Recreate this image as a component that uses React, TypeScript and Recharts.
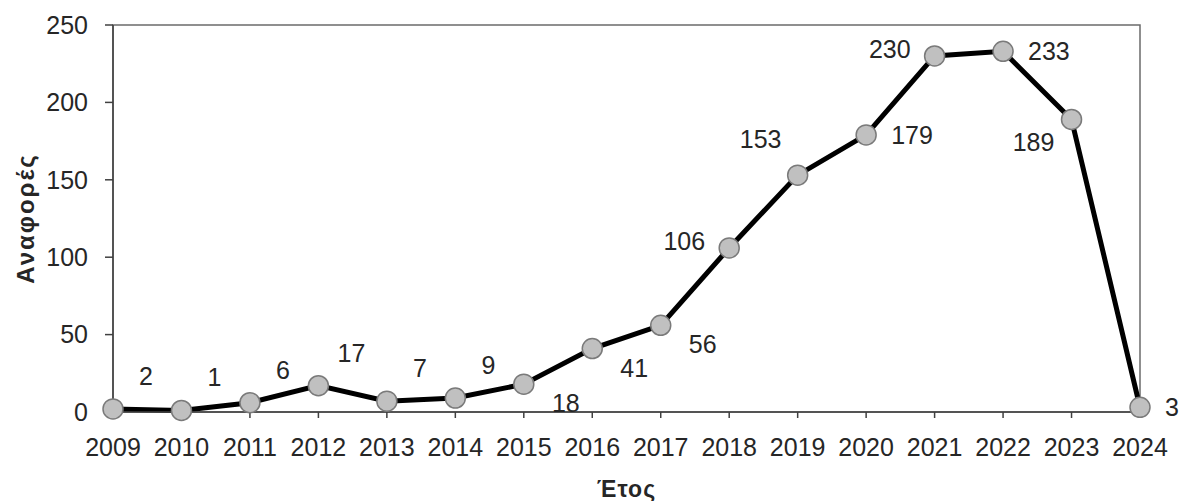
import { LineChart, Line, XAxis, YAxis, ReferenceArea, LabelList } from "recharts";

// Αναφορές ανά έτος
const years = ["2009", "2010", "2011", "2012", "2013", "2014", "2015", "2016", "2017", "2018", "2019", "2020", "2021", "2022", "2023", "2024"];
const citations = [2, 1, 6, 17, 7, 9, 18, 41, 56, 106, 153, 179, 230, 233, 189, 3];
const yTicks = [0, 50, 100, 150, 200, 250];

// where each data label sits relative to its point (ur = up-right, dr = down-right, ...)
const labelSides = ["ur", "ur", "ur", "ur", "ur", "ur", "dr", "dr", "dr", "l", "ul", "r", "l", "r", "dl", "r"];

const data = years.map((year, i) => ({ year, citations: citations[i] }));

const FONT = "'Liberation Sans', Arial, sans-serif";
const TEXT = "#262626";

const SIDES: Record<string, { dx: number; dy: number; anchor: "start" | "middle" | "end" }> = {
  ur: { dx: 33, dy: -33, anchor: "middle" },
  dr: { dx: 42, dy: 19, anchor: "middle" },
  ul: { dx: -37, dy: -36, anchor: "middle" },
  dl: { dx: -38, dy: 23, anchor: "middle" },
  l: { dx: -24, dy: -7, anchor: "end" },
  r: { dx: 25, dy: 0, anchor: "start" },
};

function PointLabel(props: any) {
  const { x, y, value, index } = props;
  const s = SIDES[labelSides[index]];
  return (
    <text x={x + s.dx} y={y + s.dy} textAnchor={s.anchor} dominantBaseline="central" fontSize={25} fill={TEXT} fontFamily={FONT}>
      {value}
    </text>
  );
}

export default function App() {
  return (
    <div style={{ position: "absolute", left: 0, top: 0, width: 1188, height: 501, background: "#fff", fontFamily: FONT }}>
      <LineChart width={1188} height={501} data={data} margin={{ top: 25, right: 48, bottom: 0, left: 0 }}>
        <ReferenceArea x1="2009" x2="2024" y1={0} y2={250} fill="none" stroke="#6b6b6b" strokeWidth={1.5} />
        <XAxis
          dataKey="year"
          height={89}
          tickSize={6}
          tickMargin={20}
          interval={0}
          stroke="#404040"
          strokeWidth={1.5}
          tick={{ fontSize: 25, fill: TEXT, fontFamily: FONT }}
          label={{
            content: ({ viewBox }: any) => (
              <text
                x={viewBox.x + viewBox.width / 2}
                y={489}
                textAnchor="middle"
                dominantBaseline="central"
                fontSize={23}
                fontWeight="bold"
                fill={TEXT}
                fontFamily={FONT}
                letterSpacing={1}
              >
                Έτος
              </text>
            ),
          }}
        />
        <YAxis
          width={113}
          domain={[0, 250]}
          ticks={yTicks}
          tickSize={8}
          tickMargin={17}
          stroke="#404040"
          strokeWidth={1.5}
          tick={{ fontSize: 25, fill: TEXT, fontFamily: FONT }}
          label={{
            content: ({ viewBox }: any) => (
              <text
                x={25}
                y={viewBox.y + viewBox.height / 2}
                transform={`rotate(-90 25 ${viewBox.y + viewBox.height / 2})`}
                textAnchor="middle"
                dominantBaseline="central"
                fontSize={24}
                fontWeight="bold"
                fill={TEXT}
                fontFamily={FONT}
                letterSpacing={2}
              >
                Αναφορές
              </text>
            ),
          }}
        />
        <Line
          type="linear"
          dataKey="citations"
          stroke="#000"
          strokeWidth={5}
          dot={{ r: 10, fill: "#c0c0c0", stroke: "#7a7a7a", strokeWidth: 1.5 }}
          activeDot={false}
          isAnimationActive={false}
        >
          <LabelList dataKey="citations" content={PointLabel} />
        </Line>
      </LineChart>
    </div>
  );
}
